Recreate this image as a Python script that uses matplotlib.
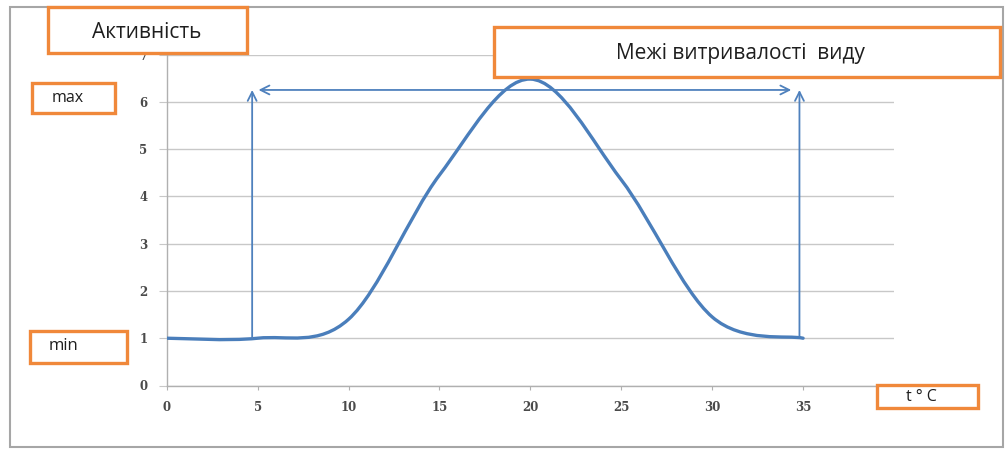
import matplotlib
matplotlib.use("Agg")
import matplotlib.pyplot as plt
from matplotlib.patches import Rectangle, PathPatch
from matplotlib.path import Path

# ---- data ----
temperature = [0, 5, 10, 15, 20, 25, 30, 35]
activity = [1.0, 1.0, 1.4, 4.45, 6.48, 4.35, 1.45, 1.0]
x_ticks = [0, 5, 10, 15, 20, 25, 30, 35, 40]
x_tick_labels = ["0", "5", "10", "15", "20", "25", "30", "35", ""]
y_ticks = [0, 1, 2, 3, 4, 5, 6, 7]
left_limit = 4.7
right_limit = 34.8
limit_top = 6.25
limit_bottom_left = 1.0
limit_bottom_right = 1.03
span_start = 5.05
span_end = 34.35
span_level = 6.25

title_y = "Активність"
title_limits = "Межі витривалості  виду"
label_max = "max"
label_min = "min"
label_x = "t ° C"

W, H = 1005, 450
fig = plt.figure(figsize=(W / 100, H / 100), dpi=100)
fig.patch.set_facecolor("white")

ax = fig.add_axes([166.7 / W, 1 - 385.5 / H, (894 - 166.7) / W, (385.5 - 54.5) / H])
ax.set_xlim(0, 40)
ax.set_ylim(0, 7)
ax.set_xticks(x_ticks)
ax.set_xticklabels(x_tick_labels)
ax.set_yticks(y_ticks)
ax.grid(axis="y", color="#C8C8C8", lw=1.0)
ax.set_axisbelow(True)
for s in ["top", "right"]:
    ax.spines[s].set_visible(False)
for s in ["left", "bottom"]:
    ax.spines[s].set_color("#B0B0B0")
    ax.spines[s].set_linewidth(1.0)
ax.tick_params(axis="y", length=6, color="#C8C8C8", pad=8, labelsize=8.5, labelcolor="#4a4a4a")
ax.tick_params(axis="x", length=3, color="#B0B0B0", pad=8, labelsize=8.5, labelcolor="#4a4a4a")
for lab in ax.get_xticklabels() + ax.get_yticklabels():
    lab.set_family("DejaVu Serif")
    lab.set_fontweight("bold")

# smoothed line (Excel-style Bezier smoothing through the data points)
pts = list(zip(temperature, activity))
n = len(pts)
verts = [pts[0]]
codes = [Path.MOVETO]
for i in range(n - 1):
    p0 = pts[max(i - 1, 0)]
    p1 = pts[i]
    p2 = pts[i + 1]
    p3 = pts[min(i + 2, n - 1)]
    c1 = (p1[0] + (p2[0] - p0[0]) / 6, p1[1] + (p2[1] - p0[1]) / 6)
    c2 = (p2[0] - (p3[0] - p1[0]) / 6, p2[1] - (p3[1] - p1[1]) / 6)
    verts += [c1, c2, p2]
    codes += [Path.CURVE4] * 3
curve_color = "#4A7EBB"
ax.add_patch(PathPatch(Path(verts, codes), fill=False, edgecolor=curve_color, lw=2.4,
                       capstyle="round", joinstyle="round", zorder=3))

arrow_color = "#4F81BD"
ap = dict(arrowstyle="->", color=arrow_color, lw=1.3, shrinkA=0, shrinkB=0, mutation_scale=16)
ax.annotate("", xy=(left_limit, limit_top), xytext=(left_limit, limit_bottom_left), arrowprops=ap)
ax.annotate("", xy=(right_limit, limit_top), xytext=(right_limit, limit_bottom_right), arrowprops=ap)
ap2 = dict(ap, arrowstyle="<->")
ax.annotate("", xy=(span_end, span_level), xytext=(span_start, span_level), arrowprops=ap2)

# outer frame
fig.add_artist(Rectangle((10 / W, 1 - 447 / H), (1003 - 10) / W, (447 - 7) / H,
                         transform=fig.transFigure, fill=False, edgecolor="#A6A6A6", lw=1.5, zorder=1))

orange = "#F0883A"
fam = ["Open Sans", "DejaVu Sans"]

def box(x0, y0, x1, y1, text, tx, ty, size):
    fig.add_artist(Rectangle((x0 / W, 1 - y1 / H), (x1 - x0) / W, (y1 - y0) / H,
                             transform=fig.transFigure, facecolor="white", edgecolor=orange,
                             lw=2.4, zorder=5))
    fig.text(tx / W, 1 - ty / H, text, ha="center", va="center", fontsize=size,
             family=fam, color="#1e1e1e", zorder=6)

box(48, 7, 247, 53, title_y, 147, 33, 15)
box(32, 83, 115, 113, label_max, 68, 98, 11.5)
box(30, 331, 127, 363, label_min, 64, 346, 12)
box(494, 27, 1000, 77, title_limits, 740, 53, 15)
box(877, 385, 978, 408, label_x, 921, 397, 11.5)

fig.savefig("out.png", dpi=100)
